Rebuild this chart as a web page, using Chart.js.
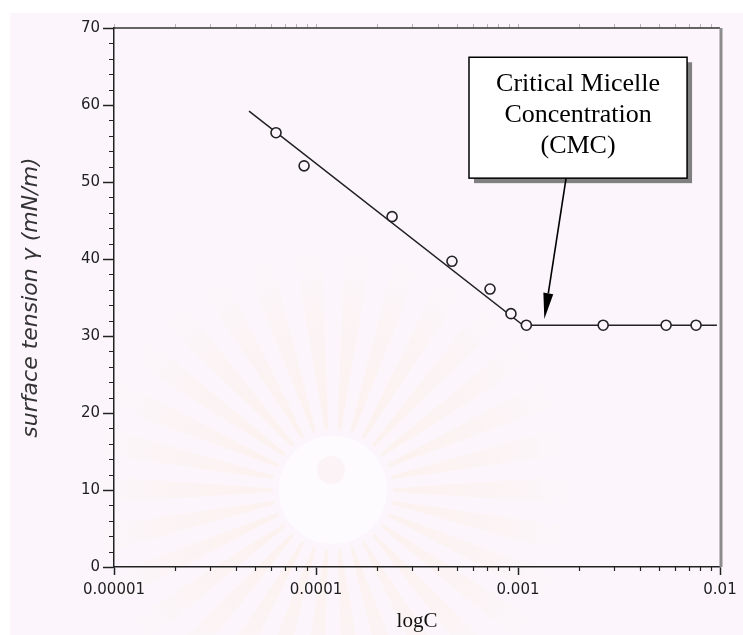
<!DOCTYPE html>
<html>
<head>
<meta charset="utf-8">
<script src="https://cdn.jsdelivr.net/npm/chart.js@4.4.1/dist/chart.umd.min.js"></script>
<style>
  html, body { margin: 0; padding: 0; background: #fff; }
  canvas { display: block; }
</style>
</head>
<body>
<canvas id="cmcChart" width="743" height="635"></canvas>
<script>
// surfactant concentration (M) vs measured surface tension (mN/m)
const concentration = [6.34e-5, 8.73e-5, 2.38e-4, 4.71e-4, 7.27e-4, 9.23e-4, 1.10e-3, 2.64e-3, 5.41e-3, 7.61e-3];
const tension = [56.4, 52.1, 45.5, 39.7, 36.1, 32.9, 31.4, 31.4, 31.4, 31.4];

// fitted lines: linear drop, then the plateau after the CMC
const fitConc = [4.66e-5, 1.06e-3, 9.66e-3];
const fitTension = [59.2, 31.4, 31.4];

const xTickValues = [1e-5, 1e-4, 1e-3, 1e-2];
const xTickLabels = ['0.00001', '0.0001', '0.001', '0.01'];
const yTickValues = [0, 10, 20, 30, 40, 50, 60, 70];

const cmcText = ['Critical Micelle', 'Concentration', '(CMC)'];
const cmcPoint = [1.35e-3, 32.2];

const BG = '#fcf6fc';

// page tint plus the faint sunburst seal behind the plot
const background = {
  id: 'background',
  beforeDraw(chart) {
    const { ctx, width, height } = chart;
    ctx.save();
    ctx.fillStyle = '#ffffff';
    ctx.fillRect(0, 0, width, height);
    ctx.fillStyle = BG;
    ctx.fillRect(10, 13, width - 10, height - 13);

    const cx = 333, cy = 490;
    const g = ctx.createRadialGradient(cx, cy, 50, cx, cy, 250);
    g.addColorStop(0, 'rgba(250,225,180,0.18)');
    g.addColorStop(0.6, 'rgba(250,228,190,0.12)');
    g.addColorStop(1, 'rgba(250,230,200,0)');
    ctx.fillStyle = g;
    const rays = 30;
    for (let i = 0; i < rays; i++) {
      const a = (i / rays) * Math.PI * 2;
      const w = Math.PI / rays * 0.55;
      ctx.beginPath();
      ctx.moveTo(cx + 60 * Math.cos(a - w * 0.5), cy + 60 * Math.sin(a - w * 0.5));
      ctx.lineTo(cx + 250 * Math.cos(a - w), cy + 250 * Math.sin(a - w));
      ctx.lineTo(cx + 250 * Math.cos(a + w), cy + 250 * Math.sin(a + w));
      ctx.lineTo(cx + 60 * Math.cos(a + w * 0.5), cy + 60 * Math.sin(a + w * 0.5));
      ctx.closePath();
      ctx.fill();
    }
    ctx.fillStyle = 'rgba(255,255,255,0.6)';
    ctx.beginPath();
    ctx.arc(cx, cy, 54, 0, Math.PI * 2);
    ctx.fill();
    ctx.fillStyle = 'rgba(240,215,215,0.2)';
    ctx.beginPath();
    ctx.arc(cx - 2, cy - 20, 14, 0, Math.PI * 2);
    ctx.fill();
    ctx.restore();
  }
};

// minor ticks, top border and the grey right border
const frame = {
  id: 'frame',
  afterDraw(chart) {
    const { ctx, chartArea: a, scales: { x, y } } = chart;
    ctx.save();
    ctx.strokeStyle = '#222';
    ctx.lineWidth = 1.2;
    ctx.beginPath();
    for (let v = 2; v < 70; v += 2) {
      if (v % 10 === 0) continue;
      const py = Math.round(y.getPixelForValue(v)) + 0.5;
      ctx.moveTo(a.left - 5, py);
      ctx.lineTo(a.left, py);
    }
    for (let d = 1e-5; d < 1e-2; d *= 10) {
      for (let m = 2; m <= 9; m++) {
        const px = Math.round(x.getPixelForValue(d * m)) + 0.5;
        ctx.moveTo(px, a.bottom);
        ctx.lineTo(px, a.bottom + 4);
      }
    }
    ctx.stroke();

    // faint mirrored ticks on the top edge
    ctx.strokeStyle = 'rgba(60,60,60,0.35)';
    ctx.lineWidth = 1;
    ctx.beginPath();
    for (let d = 1e-5; d < 1e-2; d *= 10) {
      for (let m = 1; m <= 9; m++) {
        const px = Math.round(x.getPixelForValue(d * m)) + 0.5;
        ctx.moveTo(px, a.top - 4);
        ctx.lineTo(px, a.top);
      }
    }
    ctx.stroke();

    ctx.strokeStyle = '#333';
    ctx.lineWidth = 1.5;
    ctx.beginPath();
    ctx.moveTo(a.left, a.top);
    ctx.lineTo(a.right, a.top);
    ctx.stroke();

    ctx.strokeStyle = '#8c8c8c';
    ctx.lineWidth = 3;
    ctx.beginPath();
    ctx.moveTo(a.right + 1, a.top);
    ctx.lineTo(a.right + 1, a.bottom);
    ctx.stroke();
    ctx.restore();
  }
};

// callout box with shadow and an arrow down to the CMC
const callout = {
  id: 'callout',
  afterDatasetsDraw(chart, args, opts) {
    const { ctx, scales: { x, y } } = chart;
    const l = x.getPixelForValue(opts.xMin);
    const r = x.getPixelForValue(opts.xMax);
    const t = y.getPixelForValue(opts.yMax);
    const b = y.getPixelForValue(opts.yMin);
    ctx.save();
    ctx.fillStyle = '#808080';
    ctx.fillRect(l + 5, t + 5, r - l, b - t);
    ctx.fillStyle = '#ffffff';
    ctx.fillRect(l, t, r - l, b - t);
    ctx.strokeStyle = '#000';
    ctx.lineWidth = 1.5;
    ctx.strokeRect(l, t, r - l, b - t);

    ctx.fillStyle = '#000';
    ctx.font = '26px "Liberation Serif", "Times New Roman", serif';
    ctx.textAlign = 'center';
    ctx.textBaseline = 'alphabetic';
    const cx = (l + r) / 2;
    cmcText.forEach((line, i) => ctx.fillText(line, cx, t + 34 + i * 31));

    // arrow
    const sx = x.getPixelForValue(opts.arrowFrom);
    const tx = x.getPixelForValue(cmcPoint[0]);
    const ty = y.getPixelForValue(cmcPoint[1]);
    const ang = Math.atan2(ty - b, tx - sx);
    const headLen = 26, headW = 5;
    const bx = tx - headLen * Math.cos(ang);
    const by = ty - headLen * Math.sin(ang);
    ctx.strokeStyle = '#000';
    ctx.lineWidth = 1.6;
    ctx.beginPath();
    ctx.moveTo(sx, b);
    ctx.lineTo(bx, by);
    ctx.stroke();
    ctx.fillStyle = '#000';
    ctx.beginPath();
    ctx.moveTo(tx, ty);
    ctx.lineTo(bx + headW * Math.sin(ang), by - headW * Math.cos(ang));
    ctx.lineTo(bx - headW * Math.sin(ang), by + headW * Math.cos(ang));
    ctx.closePath();
    ctx.fill();
    ctx.restore();
  }
};

const tickFont = { family: '"DejaVu Sans", sans-serif', size: 15 };

new Chart(document.getElementById('cmcChart'), {
  type: 'scatter',
  data: {
    datasets: [
      {
        label: 'measured',
        data: concentration.map((c, i) => ({ x: c, y: tension[i] })),
        pointStyle: 'circle',
        pointRadius: 5,
        pointBorderWidth: 1.6,
        pointBorderColor: '#222',
        pointBackgroundColor: BG,
        showLine: false,
        order: 0
      },
      {
        label: 'fit',
        data: fitConc.map((c, i) => ({ x: c, y: fitTension[i] })),
        showLine: true,
        borderColor: '#222',
        borderWidth: 1.5,
        pointRadius: 0,
        tension: 0,
        order: 1
      }
    ]
  },
  options: {
    responsive: false,
    animation: false,
    events: [],
    layout: { padding: { top: 28, right: 23, bottom: 0, left: 0 } },
    plugins: {
      legend: { display: false },
      tooltip: { enabled: false },
      callout: { xMin: 5.72e-4, xMax: 6.87e-3, yMin: 50.5, yMax: 66.2, arrowFrom: 1.73e-3 }
    },
    scales: {
      x: {
        type: 'logarithmic',
        min: 1e-5,
        max: 1e-2,
        afterBuildTicks: (s) => { s.ticks = xTickValues.map(v => ({ value: v })); },
        afterFit: (s) => { s.height = 68; },
        ticks: {
          color: '#1f1f1f',
          font: tickFont,
          padding: 6,
          maxRotation: 0,
          autoSkip: false,
          callback: (v) => {
            const i = xTickValues.findIndex(t => Math.abs(t - v) / t < 1e-6);
            return i >= 0 ? xTickLabels[i] : '';
          }
        },
        grid: { drawOnChartArea: false, drawTicks: true, tickLength: 8, tickColor: '#222', tickWidth: 1.5 },
        border: { display: true, color: '#222', width: 1.5 },
        title: {
          display: true,
          text: 'logC',
          color: '#111',
          font: { family: '"Liberation Serif", serif', size: 21 },
          padding: { top: 0, bottom: 1 }
        }
      },
      y: {
        min: 0,
        max: 70,
        afterBuildTicks: (s) => { s.ticks = yTickValues.map(v => ({ value: v })); },
        afterFit: (s) => { s.width = 114; },
        ticks: { color: '#1f1f1f', font: tickFont, padding: 3 },
        grid: { drawOnChartArea: false, drawTicks: true, tickLength: 11, tickColor: '#222', tickWidth: 1.5 },
        border: { display: true, color: '#222', width: 1.5 },
        title: {
          display: true,
          text: 'surface tension γ (mN/m)',
          color: '#333',
          font: { family: '"DejaVu Sans", sans-serif', size: 22, style: 'italic' },
          padding: { top: 18, bottom: 0 }
        }
      }
    }
  },
  plugins: [background, frame, callout]
});
</script>
</body>
</html>
